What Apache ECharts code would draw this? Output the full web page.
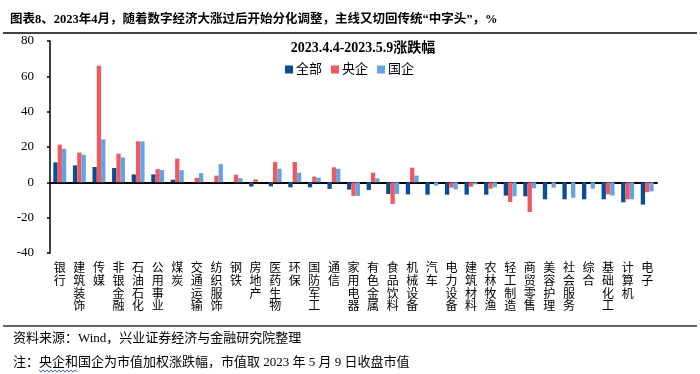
<!DOCTYPE html>
<html>
<head>
<meta charset="utf-8">
<script src="https://cdn.jsdelivr.net/npm/echarts@6/dist/echarts.min.js"></script>
<style>
html,body{margin:0;padding:0;background:#fff;}
#chart{width:700px;height:374px;}
</style>
</head>
<body>
<div id="chart"></div>
<script>
var categories = ['银行','建筑装饰','传媒','非银金融','石油石化','公用事业','煤炭','交通运输','纺织服饰','钢铁','房地产','医药生物','环保','国防军工','通信','家用电器','有色金属','食品饮料','机械设备','汽车','电力设备','建筑材料','农林牧渔','轻工制造','商贸零售','美容护理','社会服务','综合','基础化工','计算机','电子'];
var allValues = [11.3, 9.6, 8.7, 8.1, 4.5, 4.5, 1.5, 0.2, 0.2, 0.1, -2.4, -2.3, -2.8, -2.8, -3.7, -4.1, -4.3, -6.6, -6.8, -7.0, -7.0, -7.0, -7.0, -7.5, -7.9, -9.6, -9.6, -9.6, -9.6, -11.3, -12.6];
var centralValues = [21.3, 16.8, 66, 16.2, 23.2, 7.5, 13.4, 2.6, 3.8, 4.3, 1.7, 11.5, 11.5, 3.2, 8.5, -7.7, 5.5, -12.2, 8.3, null, -3.0, -2.5, -3.6, -11.1, -16.8, null, null, null, -6.8, -9.6, -5.6];
var stateValues = [19.0, 15.6, 24.3, 14.1, 23.2, 7.0, 6.9, 5.3, 10.4, 2.3, 0, 7.7, 5.5, 2.6, 7.7, -7.7, 2.3, -6.6, 3.8, -1.9, -4.0, -1.1, -2.8, -7.9, -3.4, -3.0, -8.7, -3.6, -7.5, -9.6, -5.1];
var seriesNames = ['全部','央企','国企'];
var yTicks = {min: -40, max: 80, interval: 20};

var serif = '"Liberation Serif", "Noto Sans CJK SC", serif';
var chart = echarts.init(document.getElementById('chart'));
var colors = ['#0B4C94', '#F05A5E', '#66A3E6'];

function wavy(x0, x1, y) {
  var pts = [], up = true;
  for (var x = x0; x <= x1; x += 2) { pts.push([x, up ? y - 1.2 : y + 1.2]); up = !up; }
  return pts;
}

chart.setOption({
  animation: false,
  color: colors,
  title: [
    {text: '图表8、2023年4月，随着数字经济大涨过后开始分化调整，主线又切回传统“中字头”，%', left: 5, top: 9,
     textStyle: {fontFamily: serif, fontSize: 12.5, fontWeight: 'bold', color: '#000'}},
    {text: '2023.4.4-2023.5.9涨跌幅', left: 358, top: 36, textAlign: 'center',
     textStyle: {fontFamily: serif, fontSize: 14, fontWeight: 'bold', color: '#000'}}
  ],
  legend: {
    data: seriesNames, left: 280, top: 58, itemWidth: 8, itemHeight: 8, itemGap: 9,
    icon: 'rect',
    textStyle: {fontFamily: serif, fontSize: 13, color: '#000', padding: [0,0,0,-2]}
  },
  grid: {left: 50, right: 43, top: 41, bottom: 121},
  xAxis: [
    {type: 'category', data: categories,
     axisLine: {show: false, onZero: false}, axisTick: {show: false},
     axisLabel: {interval: 0, margin: 10, fontFamily: serif, fontSize: 12, lineHeight: 12.6, color: '#000',
       formatter: function (v) { return v.split('').join('\n'); }, verticalAlign: 'top'}},
    {type: 'category', data: categories, position: 'bottom',
     axisLine: {show: true, onZero: true, lineStyle: {color: '#000', width: 2}},
     axisTick: {show: false}, axisLabel: {show: false}}
  ],
  yAxis: {
    type: 'value', min: yTicks.min, max: yTicks.max, interval: yTicks.interval,
    axisLine: {show: true, lineStyle: {color: '#000', width: 1.5}},
    axisTick: {show: true, inside: false, length: 3, lineStyle: {color: '#000', width: 1.5}},
    axisLabel: {margin: 16, fontFamily: serif, fontSize: 13, color: '#000'},
    splitLine: {show: false}
  },
  series: [
    {name: seriesNames[0], type: 'bar', data: allValues, barGap: '0%', barCategoryGap: '34%'},
    {name: seriesNames[1], type: 'bar', data: centralValues, barGap: '0%', barCategoryGap: '34%'},
    {name: seriesNames[2], type: 'bar', data: stateValues, barGap: '0%', barCategoryGap: '34%'}
  ],
  graphic: [
    {type: 'line', shape: {x1: 3, y1: 33, x2: 697, y2: 33}, style: {stroke: '#444', lineWidth: 2}},
    {type: 'line', shape: {x1: 3, y1: 326, x2: 697, y2: 326}, style: {stroke: '#666', lineWidth: 2}},
    {type: 'text', left: 13, top: 332, style: {text: '资料来源：Wind，兴业证券经济与金融研究院整理', font: '13px ' + serif, fill: '#000'}},
    {type: 'text', left: 13, top: 356, style: {text: '注：央企和国企为市值加权涨跌幅，市值取 2023 年 5 月 9 日收盘市值', font: '13px ' + serif, fill: '#000'}},
    {type: 'polyline', shape: {points: wavy(39, 78, 371)}, style: {stroke: '#4472C4', lineWidth: 1, fill: null}}
  ]
});
</script>
</body>
</html>
